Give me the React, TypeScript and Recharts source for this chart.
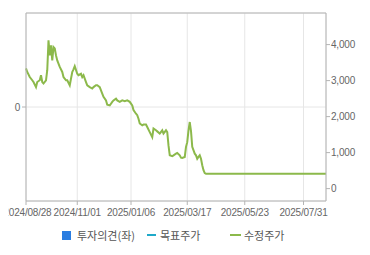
import { LineChart, Line, XAxis, YAxis, CartesianGrid, ReferenceLine } from 'recharts';

// trading-day index since 2024/08/28 and adjusted close (수정주가)
const dayIdx = [
  0, 1, 3, 5, 6, 8, 9, 11, 12, 13,
  14, 16, 17, 18, 19, 20, 21, 22, 23, 24,
  25, 27, 29, 30, 32, 33, 35, 37, 38, 39,
  41, 42, 44, 45, 46, 48, 49, 51, 53, 54,
  56, 57, 59, 61, 62, 64, 65, 67, 69, 70,
  72, 73, 75, 77, 79, 81, 83, 85, 86, 88,
  89, 90, 91, 93, 94, 96, 97, 99, 101, 102,
  104, 105, 107, 109, 110, 112, 113, 114, 115, 117,
  118, 120, 121, 123, 124, 125, 127, 128, 129, 130,
  131, 132, 133, 135, 136, 137, 138, 139, 140, 141,
  142, 143, 144, 240,
];
const adjPrice = [
  3340, 3240, 3100, 3010, 2960, 2820, 2960, 3010, 3150, 2960,
  2920, 3010, 3290, 4120, 3700, 3980, 3560, 3930, 3890, 3700,
  3560, 3380, 3240, 3100, 3010, 3010, 2870, 3240, 3310, 3400,
  3190, 3150, 3190, 3100, 3150, 2960, 2870, 2820, 2780, 2820,
  2870, 2870, 2820, 2640, 2550, 2450, 2330, 2310, 2410, 2450,
  2500, 2450, 2410, 2450, 2430, 2450, 2410, 2310, 2180, 2080,
  2040, 1940, 1810, 1760, 1780, 1780, 1710, 1570, 1430, 1670,
  1620, 1590, 1530, 1620, 1530, 1620, 1570, 1200, 925, 900,
  925, 970, 990, 925, 860, 850, 880, 1160, 1290, 1620,
  1850, 1600, 1160, 970, 925, 830, 880, 925, 830, 650,
  510, 430, 410, 410,
];

const tickIdx = [0, 41, 84, 129, 175, 222];
const tickLabels = ['2024/08/28', '2024/11/01', '2025/01/06', '2025/03/17', '2025/05/23', '2025/07/31'];
const priceTicks = [0, 1000, 2000, 3000, 4000];
const opinionTicks = [0];

const data = dayIdx.map((d, k) => ({ d, price: adjPrice[k] }));

const axisColor = '#b4b4b4';
const tickFont = '"Liberation Sans", Arial, sans-serif';
const tickStyle = { fill: '#666', fontSize: 10, fontFamily: tickFont, letterSpacing: -0.2 };
const legendFont = '"Noto Sans CJK KR", sans-serif';

// first date label is cut by the chart's left edge in the original
const DateTick = (props: any) => {
  const { x, y, payload, index } = props;
  const label = tickLabels[tickIdx.indexOf(payload.value)] ?? '';
  const first = index === 0;
  return (
    <g>
      {first && (
        <defs>
          <clipPath id="firstDateClip">
            <rect x={8.6} y={0} width={200} height={255} />
          </clipPath>
        </defs>
      )}
      <text
        x={first ? 51.5 : x}
        y={y}
        dy="0.71em"
        textAnchor={first ? 'end' : 'middle'}
        clipPath={first ? 'url(#firstDateClip)' : undefined}
        style={tickStyle}
        fill="#666"
      >
        {label}
      </text>
    </g>
  );
};

export default function App() {
  return (
    <div style={{ position: 'absolute', left: 0, top: 0, width: 370, height: 255, background: '#fff' }}>
      <LineChart width={370} height={255} data={data} margin={{ top: 13, right: 0, bottom: 0, left: 0 }}>
        <CartesianGrid yAxisId="left" stroke="#e6e6e6" />
        <XAxis
          dataKey="d"
          type="number"
          domain={[0, 240]}
          ticks={tickIdx}
          height={54}
          stroke={axisColor}
          tickSize={4}
          tickMargin={4}
          tick={<DateTick />}
          interval={0}
        />
        <YAxis
          yAxisId="left"
          type="number"
          domain={[-1, 1]}
          allowDataOverflow
          ticks={opinionTicks}
          width={26}
          stroke={axisColor}
          tickSize={4}
          tick={tickStyle}
        />
        <YAxis
          yAxisId="right"
          orientation="right"
          type="number"
          domain={[-344, 4878]}
          ticks={priceTicks}
          allowDataOverflow
          width={44}
          stroke={axisColor}
          tickSize={4}
          tickMargin={1}
          tick={tickStyle}
          tickFormatter={(v) => v.toLocaleString('en-US')}
        />
        <ReferenceLine yAxisId="left" y={1} stroke={axisColor} />
        <Line
          yAxisId="right"
          dataKey="price"
          type="linear"
          stroke="#8cb94b"
          strokeWidth={2}
          dot={false}
          isAnimationActive={false}
        />
      </LineChart>
      <div style={{ position: 'absolute', top: 227, left: 0, width: 370, height: 16, fontFamily: legendFont, fontSize: 11, color: '#555', lineHeight: '16px' }}>
        <span style={{ position: 'absolute', left: 62, top: 4, width: 9, height: 9, background: '#2a7de1' }} />
        <span style={{ position: 'absolute', left: 77, top: 0 }}>투자의견(좌)</span>
        <span style={{ position: 'absolute', left: 147, top: 7, width: 9, height: 2, background: '#1fa9c9' }} />
        <span style={{ position: 'absolute', left: 160, top: 0 }}>목표주가</span>
        <span style={{ position: 'absolute', left: 230, top: 7, width: 11, height: 2, background: '#8cb94b' }} />
        <span style={{ position: 'absolute', left: 244, top: 0 }}>수정주가</span>
      </div>
    </div>
  );
}
